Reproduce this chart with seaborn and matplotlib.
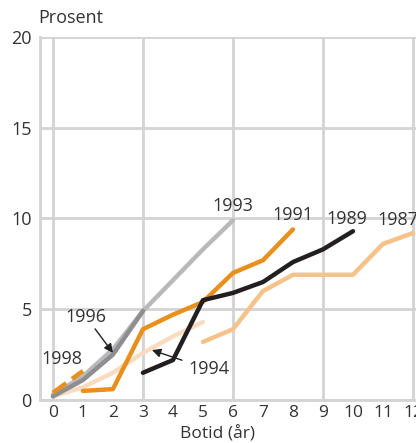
import matplotlib
matplotlib.use("Agg")
import matplotlib.pyplot as plt
import pandas as pd
import seaborn as sns

# cohort series: years since arrival -> percent
x_1987 = [5, 6, 7, 8, 9, 10, 11, 12]
y_1987 = [3.2, 3.9, 6.0, 6.9, 6.9, 6.9, 8.6, 9.2]
x_1989 = [3, 4, 5, 6, 7, 8, 9, 10]
y_1989 = [1.5, 2.2, 5.5, 5.9, 6.5, 7.6, 8.3, 9.3]
x_1991 = [1, 2, 3, 4, 5, 6, 7, 8]
y_1991 = [0.5, 0.6, 3.9, 4.7, 5.4, 7.0, 7.7, 9.4]
x_1993 = [0, 1, 2, 3, 4, 5, 6]
y_1993 = [0.3, 1.3, 2.8, 4.9, 6.6, 8.3, 9.9]
x_1994 = [0, 1, 2, 3, 4, 5]
y_1994 = [0.2, 0.7, 1.5, 2.6, 3.5, 4.3]
x_1996 = [0, 1, 2, 3]
y_1996 = [0.2, 1.1, 2.5, 4.9]
x_1998 = [0, 1]
y_1998 = [0.4, 1.6]

series = {
    "1987": (x_1987, y_1987),
    "1989": (x_1989, y_1989),
    "1991": (x_1991, y_1991),
    "1993": (x_1993, y_1993),
    "1994": (x_1994, y_1994),
    "1996": (x_1996, y_1996),
    "1998": (x_1998, y_1998),
}
colors = {
    "1987": "#f5c28a",
    "1989": "#231f20",
    "1991": "#e8901e",
    "1993": "#b9b9b9",
    "1994": "#f9dcc0",
    "1996": "#8e8e90",
    "1998": "#e8901e",
}
order = ["1994", "1987", "1993", "1996", "1991", "1989", "1998"]

rows = []
for k, (xs, ys) in series.items():
    for a, b in zip(xs, ys):
        rows.append({"kohort": k, "botid": a, "prosent": b})
df = pd.DataFrame(rows)

sns.set_style("white")
plt.rcParams["font.family"] = ["Open Sans", "DejaVu Sans"]
grid_c = "#d3d3d3"

fig = plt.figure(figsize=(4.16, 4.43), dpi=100)
ax = fig.add_axes([40 / 416, 43 / 443, 1 - 40 / 416, 363 / 443])

for k in order:
    sub = df[df.kohort == k]
    sns.lineplot(data=sub, x="botid", y="prosent", color=colors[k], lw=3.2,
                 ax=ax, legend=False, zorder=3,
                 linestyle="--" if k == "1998" else "-",
                 solid_capstyle="round" if k != "1998" else "butt")

ax.set_xlim(-0.43, 12.1)
ax.set_ylim(0, 20)
ax.set_xticks([0, 3, 6, 9, 12])
ax.set_xticks([1, 2, 4, 5, 7, 8, 10, 11], minor=True)
ax.set_xticklabels([])
ax.set_yticks([0, 5, 10, 15, 20])
ax.grid(True, which="major", color=grid_c, lw=2)
ax.tick_params(axis="y", length=0, labelsize=13, colors="#333333", pad=6)
ax.tick_params(axis="x", which="major", length=0)
ax.tick_params(axis="x", which="minor", direction="in", length=6,
               width=2, color=grid_c)
for i in range(13):
    ax.text(i, -0.3, str(i), ha="center", va="top", fontsize=12.5,
            color="#333333")
for s in ["top", "right"]:
    ax.spines[s].set_visible(False)
for s in ["left", "bottom"]:
    ax.spines[s].set_color(grid_c)
    ax.spines[s].set_linewidth(2)
ax.set_xlabel("")
ax.set_ylabel("")

txt = dict(fontsize=13, color="#333333")
ax.text(6, 10.2, "1993", ha="center", va="bottom", **txt)
ax.text(8, 9.7, "1991", ha="center", va="bottom", **txt)
ax.text(9.8, 9.5, "1989", ha="center", va="bottom", **txt)
ax.text(11.5, 9.4, "1987", ha="center", va="bottom", **txt)
ax.text(0.3, 1.75, "1998", ha="center", va="bottom", **txt)
ax.annotate("1996", xy=(2.0, 2.6), xytext=(1.1, 4.1), ha="center",
            va="bottom", arrowprops=dict(arrowstyle="-|>", color="#222222",
                                         lw=1, shrinkA=0, shrinkB=0), **txt)
ax.annotate("1994", xy=(3.3, 2.75), xytext=(4.5, 1.7), ha="left",
            va="center", arrowprops=dict(arrowstyle="-|>", color="#222222",
                                         lw=1, shrinkA=2, shrinkB=0), **txt)

fig.text(38 / 416, 1 - 18 / 443, "Prosent", ha="left", va="center", **txt)
fig.text(218 / 416, 1 - 434 / 443, "Botid (år)", ha="center", va="center",
         fontsize=12.5, color="#333333")

fig.savefig("out.png", dpi=100)
